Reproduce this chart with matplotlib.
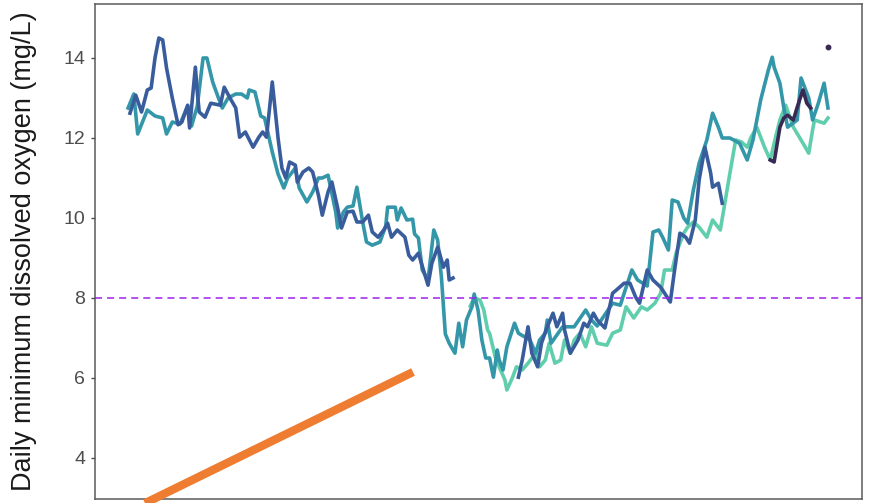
import matplotlib
matplotlib.use("Agg")
import matplotlib.pyplot as plt

# day of year and daily minimum dissolved oxygen (mg/L), one pair per year
teal_day = [1, 4, 6, 11, 15, 19, 21, 24, 28, 32, 34, 37, 40, 42, 45, 48, 50, 53, 57, 60,
            63, 64, 67, 70, 72, 74, 76, 79, 82, 84, 88, 90, 94, 97, 100, 102, 105, 109, 110, 113,
            115, 118, 120, 123, 125, 128, 132, 135, 136, 140, 141, 143, 146, 149, 150, 152, 154, 157, 160, 162,
            164, 166, 168, 171, 173, 175, 177, 180, 181, 183, 185, 187, 189, 191, 193, 194, 196, 198, 202, 204,
            210, 213, 215, 218, 219, 221, 227, 233, 239, 242, 245, 253, 257, 259, 263, 266, 271, 274, 277, 279,
            282, 284, 287, 290, 292, 295, 298, 302, 305, 308, 310, 314, 319, 323, 326, 330, 334, 336, 337, 340,
            342, 344, 349, 351, 355, 357, 360, 363, 365]
teal_do = [12.75, 13.1, 12.1, 12.7, 12.55, 12.5, 12.1, 12.4, 12.35, 12.8, 12.3, 12.8, 14.0, 14.0, 13.4, 13.0, 12.75, 13.0, 13.1, 13.1,
           13.0, 13.2, 13.15, 12.55, 12.5, 12.07, 11.65, 11.1, 10.75, 11.0, 11.25, 10.75, 10.4, 10.65, 11.0, 11.0, 11.07, 10.15, 9.75, 10.15,
           10.27, 10.3, 10.77, 9.9, 9.4, 9.32, 9.4, 9.8, 10.27, 10.27, 9.95, 10.25, 9.95, 9.97, 9.6, 9.5, 8.7, 8.45, 9.7, 9.45,
           8.5, 7.1, 6.87, 6.62, 7.37, 6.78, 7.45, 7.8, 8.1, 7.7, 6.95, 6.5, 6.5, 6.02, 6.7, 6.45, 6.2, 6.78, 7.37, 7.12,
           6.95, 6.62, 6.95, 7.12, 7.45, 6.87, 7.28, 7.28, 7.7, 7.45, 7.3, 7.87, 7.82, 8.12, 8.7, 8.45, 8.3, 9.65, 9.7, 9.52,
           9.2, 10.45, 10.4, 10.0, 9.87, 10.7, 11.37, 11.95, 12.62, 12.27, 12.0, 12.0, 11.87, 11.45, 11.95, 12.95, 13.7, 14.02, 13.77, 13.37,
           12.77, 12.27, 12.45, 13.5, 13.0, 12.45, 12.87, 13.37, 12.75]

light_day = [179, 181, 184, 186, 188, 189, 192, 194, 197, 198, 201, 203, 206, 209, 213, 215, 218, 220, 223, 226,
             228, 231, 233, 236, 239, 242, 245, 250, 253, 257, 260, 264, 268, 271, 275, 278, 280, 284, 286, 290,
             292, 295, 298, 302, 305, 309, 311, 314, 317, 320, 323, 325, 328, 332, 335, 337, 340, 343, 347, 352,
             355, 357, 358, 363, 365]
light_do = [7.8, 8.0, 7.95, 7.7, 7.2, 7.12, 6.52, 6.28, 5.95, 5.7, 6.02, 6.28, 6.2, 6.37, 6.62, 6.28, 6.45, 6.87, 6.37, 6.45,
            6.95, 6.62, 6.95, 7.12, 6.78, 7.28, 6.87, 6.82, 7.12, 7.2, 7.78, 7.5, 7.78, 7.7, 7.87, 8.12, 8.7, 8.7, 9.12, 9.62,
            9.77, 9.9, 9.77, 9.52, 9.95, 9.7, 10.27, 11.12, 11.95, 11.9, 11.77, 12.02, 12.27, 11.77, 11.45, 11.87, 12.45, 12.82, 12.27, 11.87,
            11.62, 12.2, 12.45, 12.37, 12.5]

# blue year has a gap in mid-summer, so it is kept as two runs
blue_day_1 = [2, 5, 8, 11, 13, 15, 17, 19, 21, 24, 27, 29, 32, 33, 36, 37, 38, 41, 44, 49,
              51, 54, 57, 59, 62, 66, 69, 71, 73, 76, 79, 81, 83, 85, 88, 89, 92, 95, 97, 100,
              102, 105, 107, 110, 112, 115, 118, 120, 123, 126, 128, 131, 134, 136, 138, 141, 145, 147, 149, 152,
              157, 159, 162, 163, 165, 167, 168, 170]
blue_do_1 = [12.62, 13.07, 12.65, 13.2, 13.25, 14.0, 14.5, 14.45, 13.75, 13.0, 12.33, 12.4, 12.82, 12.25, 13.77, 13.15, 12.65, 12.52, 12.87, 12.82,
             13.27, 13.0, 12.75, 12.02, 12.15, 11.77, 12.02, 12.15, 12.02, 13.4, 12.0, 11.25, 11.0, 11.4, 11.32, 10.9, 11.15, 11.25, 11.15, 10.57,
             10.07, 10.65, 10.9, 10.25, 9.75, 10.15, 10.17, 9.9, 9.9, 10.07, 9.65, 9.52, 9.7, 9.87, 9.52, 9.7, 9.52, 9.07, 8.95, 9.12,
             8.32, 8.87, 9.27, 9.12, 8.77, 8.95, 8.45, 8.5]
blue_day_2 = [204, 206, 209, 211, 214, 216, 219, 222, 224, 227, 228, 231, 235, 238, 240, 243, 245, 249, 253, 255,
              259, 262, 265, 267, 271, 274, 278, 283, 285, 288, 291, 293, 296, 298, 301, 304, 305, 308, 310]
blue_do_2 = [6.02, 6.45, 7.28, 6.62, 6.28, 6.87, 7.28, 7.62, 7.28, 7.62, 7.2, 6.62, 6.95, 7.37, 7.28, 7.62, 7.45, 7.25, 8.12, 8.2,
             8.37, 8.37, 8.02, 7.87, 8.7, 8.45, 8.27, 7.9, 8.62, 9.62, 9.52, 9.37, 9.95, 10.95, 11.77, 11.12, 10.77, 10.87, 10.37]

navy_day = [335, 337, 340, 342, 344, 347, 349, 352, 354, 356]
navy_do = [11.45, 11.4, 12.27, 12.5, 12.57, 12.45, 12.77, 13.2, 12.87, 12.75]
navy_single_day = [365]
navy_single_do = [14.27]

do_threshold = 8.0
y_ticks = [4, 6, 8, 10, 12, 14]

# callout line drawn over the panel (day, mg/L)
callout_start = (9.8, 2.87)
callout_end = (149.2, 6.15)

colors = {"navy": "#382A54", "blue": "#395D9C", "teal": "#3497A9", "light": "#60CEAC"}

plt.rcParams["font.family"] = ["Liberation Sans", "DejaVu Sans"]

fig = plt.figure(figsize=(8.73, 5.03), dpi=100)
ax = fig.add_axes([95 / 873, 4 / 503, 767 / 873, 495 / 503])

lw = 2.6
ax.plot(light_day, light_do, color=colors["light"], lw=lw, solid_joinstyle="round")
ax.plot(teal_day, teal_do, color=colors["teal"], lw=lw, solid_joinstyle="round")
ax.plot(blue_day_1, blue_do_1, color=colors["blue"], lw=lw, solid_joinstyle="round")
ax.plot(blue_day_2, blue_do_2, color=colors["blue"], lw=lw, solid_joinstyle="round")
ax.plot(navy_day, navy_do, color=colors["navy"], lw=lw, solid_joinstyle="round")
ax.plot(navy_single_day, navy_single_do, "o", color=colors["navy"], ms=3.2)

ax.axhline(do_threshold, color="#A020F0", lw=1.1, linestyle=(0, (4.6, 3.3)))

ax.plot([callout_start[0], callout_end[0]], [callout_start[1], callout_end[1]],
        color="#EE7D31", lw=6, solid_capstyle="butt", clip_on=False, zorder=5)

ax.set_xlim(-16.2, 382.7)
ax.set_ylim(2.975, 15.35)
ax.set_xticks([])
ax.set_yticks(y_ticks)
ax.tick_params(axis="y", length=3, width=1, color="#4d4d4d", labelcolor="#4d4d4d",
               labelsize=14, pad=4)

for side in ax.spines.values():
    side.set_color("#5a5a5a")
    side.set_linewidth(1.1)

ax.set_ylabel("Daily minimum dissolved oxygen (mg/L)", fontsize=19.5, color="#1a1a1a")
ax.yaxis.set_label_coords(-0.076, 0.5)

fig.savefig("out.png", dpi=100)
